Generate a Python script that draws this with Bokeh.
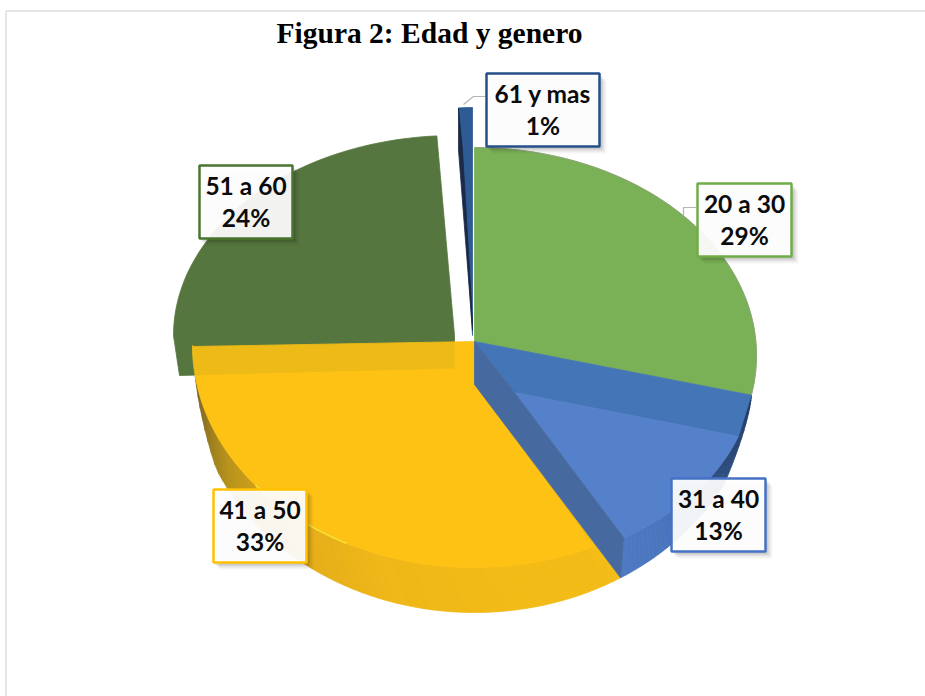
import math
from bokeh.plotting import figure
from bokeh.core.properties import value
from bokeh.embed import file_html
from bokeh.resources import INLINE

# ---- data ----
categories = ["20 a 30", "31 a 40", "41 a 50", "51 a 60", "61 y mas"]
shares = [29, 13, 33, 24, 1]
title_text = "Figura 2: Edad y genero"

# ---- palette ----
GREEN, BAND, FACE, WALL = "#7BB156", "#4475B6", "#5580CA", "#46699F"
YELLOW, DKGREEN, NAVY = "#FEC214", "#56763F", "#2F5B94"
border_colors = ["#70AD47", "#4472C4", "#FFC000", "#4A7530", "#264F8A"]

# cumulative angles (degrees clockwise from the top) come from the data
edges = [0]
for s in shares:
    edges.append(edges[-1] + s * 3.6)
a_green, a_blue, a_yellow, a_dk, a_nv = edges[1:]


def pt(e, a):
    cx, cy, rx, ry = e
    r = math.radians(a)
    return cx + rx * math.sin(r), cy - ry * math.cos(r)


def arc(e, a0, a1, n=60):
    return [pt(e, a0 + (a1 - a0) * i / n) for i in range(n + 1)]


def mix(stops, t):
    t = max(0, min(1, t)) * (len(stops) - 1)
    i = min(int(t), len(stops) - 2)
    f = t - i
    c0, c1 = stops[i], stops[i + 1]
    rgb = [int(c0[k:k + 2], 16) * (1 - f) + int(c1[k:k + 2], 16) * f for k in (1, 3, 5)]
    return "#%02x%02x%02x" % tuple(int(v) for v in rgb)


# perspective ellipses (screen-like layout units): cx, cy, rx, ry
E_GREEN = (474, 355, 282, 208)
E_BLUE = (470, 376, 282, 192)
E_YFACE = (474, 345, 282, 222)
E_SIL = (474, 372, 282, 240)
E_DK = (454, 335, 281, 200)
E_NV = (472, 338, 223, 231)
APEX = (474, 341)
BLUE_APEX = (514, 392)
DEPTH = 43

p = figure(width=925, height=696, x_range=(0, 925), y_range=(696, 0),
           output_backend="svg", toolbar_location=None, min_border=0,
           margin=0, outline_line_color=None)
p.axis.visible = False
p.grid.visible = False
p.background_fill_color = "white"


def poly(points, color, alpha=1.0):
    p.patch([q[0] for q in points], [q[1] for q in points], fill_color=color,
            fill_alpha=alpha, line_color=color if alpha == 1.0 else None, line_width=0.8)


# frame
p.line([5.5, 5.5, 925], [696, 10.5, 10.5], line_color="#DEDEDE", line_width=1.5)

# dark green slice
dk_arc = arc(E_DK, a_yellow, a_dk)
dk_bottom = (E_DK[0], E_DK[1] + DEPTH - 10)
dk_left = (dk_arc[0][0] + 6, dk_arc[0][1] + 40)
poly(dk_arc + [(E_DK[0], E_DK[1]), dk_bottom, dk_left], DKGREEN)

# 61 y mas slice
nv_arc = arc(E_NV, a_dk, a_nv, 6)
poly(nv_arc + [(E_NV[0], E_NV[1] - 3)], NAVY)
s0 = nv_arc[0]
poly([s0, (s0[0], s0[1] + 42), (E_NV[0], E_NV[1] - 8), (E_NV[0], E_NV[1] - 18), (s0[0] + 4, s0[1] + 42)], "#1B2A47")

# light green slice
g_end = a_green - 3.4
g_arc = arc(E_GREEN, 0, g_end)
poly([APEX] + g_arc, GREEN)
p.line([q[0] for q in g_arc], [q[1] for q in g_arc], line_color="#8E9C84", line_width=1, line_alpha=0.7)

# blue slice: band, rim, face
bf0, bf1 = a_green + 3.8, a_blue - 4.1
s0b, s1b = a_green - 3.4, a_blue - 2.4
n = 40
rim_stops = ["#1F3860", "#2A4775", "#3E68A8", "#4B76BE", "#4F7AC4"]


def blue_outer(t):
    o = pt(E_SIL, s0b + (s1b - s0b) * t)
    k = min(1, t / 0.35)
    return g_arc[-1][0] + (o[0] - g_arc[-1][0]) * k, g_arc[-1][1] + (o[1] - g_arc[-1][1]) * k


for i in range(n):
    t0, t1 = i / n, (i + 1) / n
    q = [pt(E_BLUE, bf0 + (bf1 - bf0) * t0), pt(E_BLUE, bf0 + (bf1 - bf0) * t1),
         blue_outer(t1), blue_outer(t0)]
    poly(q, mix(rim_stops, t0))
poly([APEX, g_arc[-1], pt(E_BLUE, bf0), BLUE_APEX], BAND)
poly([BLUE_APEX] + arc(E_BLUE, bf0, bf1), FACE)

# yellow slice: rim then face
yf0 = a_blue + 3.8
y_end = 262
rim_y = ["#F4BC16", "#F3BB16", "#F0B818", "#E4AD1A", "#B8931C", "#6F5C20"]
n = 60
s_start = a_blue - 2.4


def outer(t, a):
    f = pt(E_YFACE, a)
    o = pt(E_SIL, s_start + (y_end - s_start) * t)
    k = min(1, (1 - t) / 0.14)
    return f[0] + (o[0] - f[0]) * k, f[1] + (o[1] - f[1]) * k


poly([(APEX[0], APEX[1] + DEPTH), pt(E_SIL, s_start), pt(E_YFACE, yf0)], rim_y[0])
for i in range(n):
    t0, t1 = i / n, (i + 1) / n
    a0, a1 = yf0 + (y_end - yf0) * t0, yf0 + (y_end - yf0) * t1
    poly([pt(E_YFACE, a0), pt(E_YFACE, a1), outer(t1, a1), outer(t0, a0)], mix(rim_y, t0))
y_arc = arc(E_YFACE, yf0, a_yellow)
y_corner = (y_arc[-1][0] + 1, y_arc[-1][1] + 1)
poly([APEX, (APEX[0], APEX[1] + DEPTH)] + y_arc + [y_corner], YELLOW)

# dark green shows through the yellow where they overlap
f = (y_corner[0] - dk_left[0]) / (dk_bottom[0] - dk_left[0])
edge_y = dk_left[1] + (dk_bottom[1] - dk_left[1]) * f
top_r = y_corner[1] + (APEX[1] - y_corner[1]) * (dk_bottom[0] - y_corner[0]) / (APEX[0] - y_corner[0])
poly([y_corner, (dk_bottom[0], top_r), dk_bottom, (y_corner[0], edge_y)], DKGREEN, 0.10)

hl = arc(E_YFACE, 207, 231, 20)
p.line([q[0] for q in hl], [q[1] for q in hl], line_color="#F6E63C", line_width=1.5, line_alpha=0.9)

# blue slice wall sits on top of the yellow's edge
poly([APEX, (APEX[0], APEX[1] + DEPTH), pt(E_SIL, s1b), pt(E_BLUE, bf1), BLUE_APEX], WALL)

# leader lines
p.line([463, 473, 485], [104, 96, 96], line_color="#B5B5B5", line_width=1.2)
p.line([683, 683, 696], [215, 207, 207], line_color="#B5B5B5", line_width=1.2)

# labels (box anchor follows category order)
box_left = [697, 671, 213, 199, 486]
box_top = [183, 478, 489, 165, 73]
box_w = [94, 94, 93, 93, 113]
box_h = 73
for i, cat in enumerate(categories):
    x0, y0, w = box_left[i], box_top[i], box_w[i]
    for off, al in ((7, 0.04), (5, 0.07), (3, 0.10)):
        p.quad(left=x0 + off - 1, right=x0 + w + off, top=y0 + off, bottom=y0 + box_h + off,
               fill_color="#000000", fill_alpha=al, line_color=None)
    p.quad(left=x0, right=x0 + w, top=y0, bottom=y0 + box_h, fill_color="white", fill_alpha=0.93,
           line_color=border_colors[i], line_width=2.5)
    cx = x0 + w / 2
    for txt, dy in ((cat, -17), (f"{shares[i]}%", 15)):
        p.text([cx], [y0 + box_h / 2 + dy], text=[txt], text_align="center", text_baseline="middle",
               text_font=value("Lato"), text_font_style="bold", text_font_size="24.5px", text_color="#0B0B0B")

p.text([429], [32], text=[title_text], text_align="center", text_baseline="middle",
       text_font=value("Liberation Serif"), text_font_style="bold", text_font_size="29.5px", text_color="black")

open("out.html", "w").write(file_html(p, INLINE))
